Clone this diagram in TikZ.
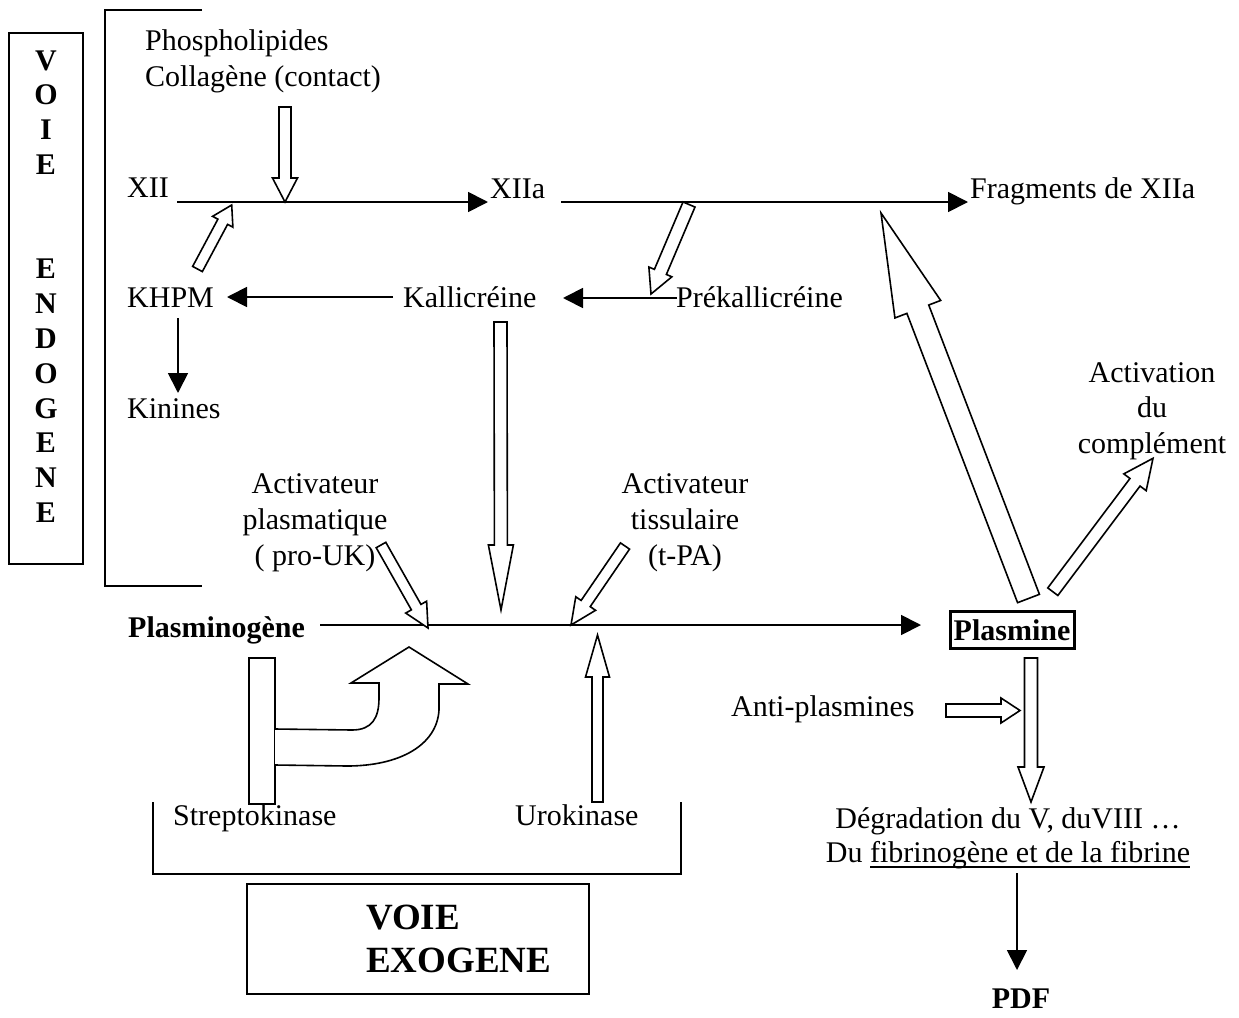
\documentclass[tikz,border=0pt]{standalone}
\usepackage{fontspec}
\setmainfont{Liberation Serif}
\usetikzlibrary{arrows.meta}
\newcommand{\ulthick}[1]{\setbox0\hbox{#1}\rlap{\rule[-6.2pt]{\wd0}{2.4pt}}\box0}
\newcommand{\harrow}[7]{% x1 y1 x2 y2 shafthalf headhalf headlen
  \pgfmathsetmacro\hadx{#3-(#1)}%
  \pgfmathsetmacro\hady{#4-(#2)}%
  \pgfmathsetmacro\halen{100*veclen(\hadx/100,\hady/100)}%
  \pgfmathsetmacro\haux{\hadx/\halen}%
  \pgfmathsetmacro\hauy{\hady/\halen}%
  \pgfmathsetmacro\habx{#3-#7*\haux}%
  \pgfmathsetmacro\haby{#4-#7*\hauy}%
  \draw[hollow] ({#1-#5*\hauy},{#2+#5*\haux}) -- ({\habx-#5*\hauy},{\haby+#5*\haux})
    -- ({\habx-#6*\hauy},{\haby+#6*\haux}) -- (#3,#4)
    -- ({\habx+#6*\hauy},{\haby-#6*\haux}) -- ({\habx+#5*\hauy},{\haby-#5*\haux})
    -- ({#1+#5*\hauy},{#2-#5*\haux}) -- cycle;%
}
\tikzset{
  hollow/.style={draw=black, fill=white, line width=1.6pt, line join=miter},
  thin/.style={line width=1.8pt},
  arr/.style={line width=1.8pt, -{Triangle[length=20pt,width=20pt]}},
  lab/.style={inner sep=0pt, font=\fontsize{30}{36}\selectfont},
  blab/.style={inner sep=0pt, font=\fontsize{30}{36}\selectfont\bfseries},
}
\begin{document}
\begin{tikzpicture}[x=1pt,y=-1pt]
\fill[white] (0,0) rectangle (1239,1017);
\useasboundingbox (0,0) rectangle (1239,1017);

% --- VOIE ENDOGENE box and bracket
\node[draw, line width=1.8pt, minimum width=74pt, minimum height=531pt, inner sep=0pt] (endobox) at (46,298.5) {};
\node[inner sep=0pt, anchor=base, font=\fontsize{30}{34.8}\selectfont\bfseries] (endo) at (46,70)
  {\begin{tabular}[t]{@{}c@{}}V\\O\\I\\E\\ \\ \\E\\N\\D\\O\\G\\E\\N\\E\end{tabular}};
\draw[thin] (202,10) -- (105,10) -- (105,586) -- (202,586);

% --- texts
\node[lab, anchor=base west] (phos) at (145,50)
  {\begin{tabular}[t]{@{}l@{}}Phospholipides\\Collagène (contact)\end{tabular}};
\node[lab, anchor=base west] (xii) at (127,197) {XII};
\node[lab, anchor=base west] (xiia) at (490,198) {XIIa};
\node[lab, anchor=base west] (frag) at (970,198) {Fragments de XIIa};
\node[lab, anchor=base west] (khpm) at (127,307) {KHPM};
\node[lab, anchor=base west] (kal) at (403,307) {Kallicréine};
\node[lab, anchor=base west] (prek) at (676,307) {Prékallicréine};
\node[lab, anchor=base west] (kin) at (127,418) {Kinines};
\node[lab, anchor=base] (actp) at (315,493)
  {\begin{tabular}[t]{@{}c@{}}Activateur\\plasmatique\\( pro-UK)\end{tabular}};
\node[lab, anchor=base] (actt) at (685,493)
  {\begin{tabular}[t]{@{}c@{}}Activateur\\tissulaire\\(t-PA)\end{tabular}};
\node[inner sep=0pt, anchor=base, font=\fontsize{30}{35.5}\selectfont] (actc) at (1152,382)
  {\begin{tabular}[t]{@{}c@{}}Activation\\du\\complément\end{tabular}};
\node[blab, anchor=base west] (plg) at (128,637) {Plasminogène};
\node[blab, draw, line width=3pt, minimum width=124pt, minimum height=37pt,
      text height=21pt, text depth=0pt] (pls) at (1012,629.5) {Plasmine};
\node[lab, anchor=base west] (anti) at (731,716) {Anti-plasmines};
\node[lab, anchor=base west] (strep) at (173,825) {Streptokinase};
\node[lab, anchor=base west] (uro) at (515,825) {Urokinase};
\node[inner sep=0pt, anchor=base, font=\fontsize{30}{34}\selectfont] (deg) at (1008,828)
  {\begin{tabular}[t]{@{}c@{}}Dégradation du V, duVIII …\\Du \ulthick{fibrinogène et de la fibrine}\end{tabular}};
\node[blab, anchor=base] (pdf) at (1021,1008) {PDF};

% --- VOIE EXOGENE
\draw[thin] (153,802) -- (153,874) -- (681,874) -- (681,802);
\node[draw, line width=1.8pt, minimum width=342pt, minimum height=110pt, inner sep=0pt] (exobox) at (418,939) {};
\node[inner sep=0pt, anchor=base west, font=\fontsize{37}{43}\selectfont\bfseries] (exo) at (366,929)
  {\begin{tabular}[t]{@{}l@{}}VOIE\\EXOGENE\end{tabular}};

% --- thin connectors
\coordinate (l1s) at (177,202); \coordinate (l1e) at (488,202);
\coordinate (l2s) at (561,202); \coordinate (l2e) at (968,202);
\coordinate (l3s) at (393,297); \coordinate (l3e) at (227,297);
\coordinate (l4s) at (677,298); \coordinate (l4e) at (563,298);
\coordinate (l5s) at (178,318); \coordinate (l5e) at (178,393);
\coordinate (l6s) at (320,625); \coordinate (l6e) at (921,625);
\coordinate (l7s) at (1017,873); \coordinate (l7e) at (1017,970);
\draw[arr] (l1s) -- (l1e);
\draw[arr] (l2s) -- (l2e);
\draw[arr] (l3s) -- (l3e);
\draw[arr] (l4s) -- (l4e);
\draw[arr] (l5s) -- (l5e);
\draw[arr] (l6s) -- (l6e);
\draw[arr] (l7s) -- (l7e);

% --- hollow arrows
\harrow{285}{107}{285}{202}{6}{12.5}{24}
\harrow{197.5}{269}{231.7}{205}{5.5}{11.5}{19}
\harrow{689}{204.5}{651}{294}{6.5}{12.5}{24}
\harrow{500.5}{322}{501}{610}{6.5}{12.5}{65}
\harrow{381}{545}{428}{628}{5.5}{12}{24}
\harrow{625}{546}{571}{625}{5.5}{12}{26}
\harrow{597.5}{802}{597.5}{635}{5.5}{12}{42}
\harrow{1028.5}{598.5}{881}{213}{11.7}{24.5}{103}
\harrow{1052.8}{591.7}{1153}{458.3}{6.3}{14}{30}
\harrow{1031}{658}{1031}{802}{6.5}{13}{35}
\harrow{946}{710.5}{1020}{710.5}{6.5}{12.5}{19}

% --- streptokinase bar and curved arrow
\node[draw, line width=1.6pt, fill=white, minimum width=26pt, minimum height=146pt, inner sep=0pt] (skbar) at (262,731) {};
\draw[hollow] (275,729) -- (352,730) .. controls (372,730) and (379,718) .. (379,698)
  -- (379,683) -- (351,683) -- (409,647) -- (468,684) -- (439,684) -- (439,710)
  .. controls (437,745) and (400,766) .. (347,766) -- (275,765);
\end{tikzpicture}
\end{document}
